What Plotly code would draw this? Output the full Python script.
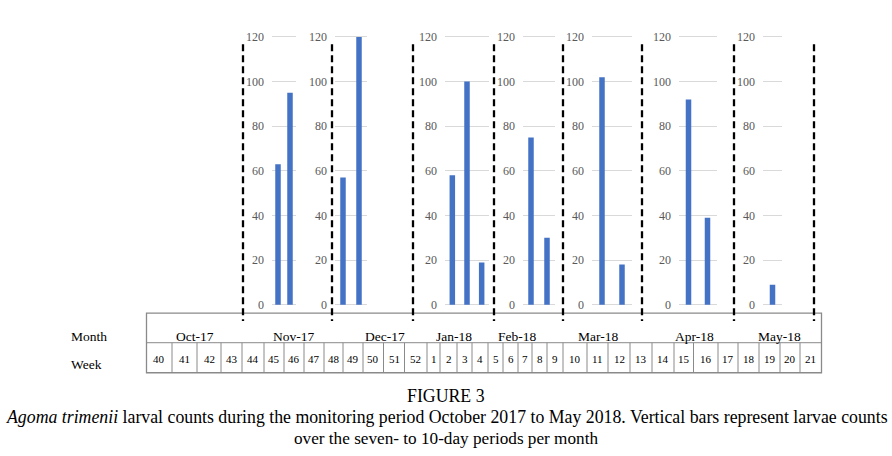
import plotly.graph_objects as go

# ---------------- data ----------------
months = ["Oct-17", "Nov-17", "Dec-17", "Jan-18", "Feb-18", "Mar-18", "Apr-18", "May-18"]
weeks = [40, 41, 42, 43, 44, 45, 46, 47, 48, 49, 50, 51, 52,
         1, 2, 3, 4, 5, 6, 7, 8, 9, 10, 11, 12, 13, 14, 15, 16, 17, 18, 19, 20, 21]

nov_weeks = ["45", "46"]
nov_counts = [63, 95]
dec_weeks = ["49", "50"]
dec_counts = [57, 120]
jan_weeks = ["2", "3", "4"]
jan_counts = [58, 100, 19]
feb_weeks = ["7", "8"]
feb_counts = [75, 30]
mar_weeks = ["11", "12"]
mar_counts = [102, 18]
apr_weeks = ["15", "16"]
apr_counts = [92, 39]
may_weeks = ["19"]
may_counts = [9]

y_ticks = [0, 20, 40, 60, 80, 100, 120]

caption_title = "FIGURE 3"
caption_line1 = ("<i>Agoma trimenii</i> larval counts during the monitoring period October 2017 "
                 "to May 2018. Vertical bars represent larvae counts")
caption_line2 = "over the seven- to 10-day periods per month"

panels = [
    (nov_weeks, nov_counts), (dec_weeks, dec_counts), (jan_weeks, jan_counts),
    (feb_weeks, feb_counts), (mar_weeks, mar_counts), (apr_weeks, apr_counts),
    (may_weeks, may_counts),
]

# ---------------- layout (pixel geometry) ----------------
W, H = 892, 456
def px(x):
    return x / W
def py(y):
    return 1 - y / H

panel_x_px = [(272, 296), (335, 367), (445, 489), (523, 555), (592, 632), (679, 717), (763, 782)]
Y0_PX, Y120_PX = 306.5, 34.5
k = (Y0_PX - Y120_PX) / 120.0
Y_LO, Y_HI = -1.5, 121.5
y_dom = [py(Y0_PX - Y_LO * k), py(Y0_PX - Y_HI * k)]
BAR_PX = 5.5

divider_x_px = [243, 332, 413, 494, 563, 642, 734, 814]
month_label_x_px = [194.5, 293, 385, 454, 517, 598, 694, 779]
week_edges_px = [146.5, 172, 197, 221, 242, 264, 284, 304, 324, 343, 363, 383.5, 404.5,
                 427, 440, 457, 472, 488, 503, 518, 532, 547, 563, 587, 608, 630,
                 652, 674, 693.5, 718, 738, 759, 780, 800, 821.5]
TABLE_TOP, TABLE_MID, TABLE_BOT = 315, 345, 375.5

SERIF = "Liberation Serif, Times New Roman, serif"
BAR_COLOR = "#4472C4"
GRID_COLOR = "#d9d9d9"
TABLE_LINE = "#8a8a8a"
CAPTION_SIZE = 17.8

fig = go.Figure()
layout = dict(
    width=W, height=H,
    margin=dict(l=0, r=0, t=0, b=0),
    paper_bgcolor="white", plot_bgcolor="rgba(0,0,0,0)",
    showlegend=False,
    bargap=0.6,
)

for i, ((cats, vals), (xa, xb)) in enumerate(zip(panels, panel_x_px), start=1):
    sfx = "" if i == 1 else str(i)
    cat_px = (xb - xa) / len(cats)
    fig.add_trace(go.Bar(
        x=cats, y=vals,
        xaxis="x" + sfx, yaxis="y" + sfx,
        marker=dict(color=BAR_COLOR, line=dict(width=0)),
        width=BAR_PX / cat_px,
        hoverinfo="x+y",
    ))
    layout["xaxis" + sfx] = dict(
        domain=[px(xa), px(xb)], anchor="y" + sfx, type="category",
        showticklabels=False, showgrid=False, zeroline=False, showline=False,
        ticks="", fixedrange=True,
    )
    layout["yaxis" + sfx] = dict(
        domain=y_dom, anchor="x" + sfx, range=[Y_LO, Y_HI],
        tickvals=y_ticks, ticktext=[str(v) for v in y_ticks],
        showgrid=True, gridcolor=GRID_COLOR, gridwidth=1,
        zeroline=False, showline=False, ticks="",
        ticklabelstandoff=7,
        tickfont=dict(family=SERIF, size=12, color="#595959"),
        fixedrange=True,
    )

shapes = []
# table
shapes.append(dict(type="rect", xref="paper", yref="paper",
                   x0=px(week_edges_px[0]), x1=px(week_edges_px[-1]),
                   y0=py(TABLE_BOT), y1=py(TABLE_TOP),
                   line=dict(color=TABLE_LINE, width=1.3), layer="below"))
shapes.append(dict(type="line", xref="paper", yref="paper",
                   x0=px(week_edges_px[0]), x1=px(week_edges_px[-1]),
                   y0=py(TABLE_MID), y1=py(TABLE_MID),
                   line=dict(color=TABLE_LINE, width=1), layer="below"))
for e in week_edges_px[1:-1]:
    shapes.append(dict(type="line", xref="paper", yref="paper",
                       x0=px(e), x1=px(e), y0=py(TABLE_BOT), y1=py(TABLE_MID),
                       line=dict(color=TABLE_LINE, width=1), layer="below"))
# month dividers
for d in divider_x_px:
    shapes.append(dict(type="line", xref="paper", yref="paper",
                       x0=px(d), x1=px(d), y0=py(42), y1=py(323),
                       line=dict(color="black", width=2.3, dash="7px,4px")))

annotations = []
annotations.append(dict(text="Month", x=px(69), y=py(338.5), xref="paper", yref="paper",
                        xanchor="left", yanchor="middle", showarrow=False,
                        font=dict(family=SERIF, size=13.5, color="black")))
annotations.append(dict(text="Week", x=px(69), y=py(367), xref="paper", yref="paper",
                        xanchor="left", yanchor="middle", showarrow=False,
                        font=dict(family=SERIF, size=13.5, color="black")))
for m, mx in zip(months, month_label_x_px):
    annotations.append(dict(text=m, x=px(mx), y=py(338.5), xref="paper", yref="paper",
                            xanchor="center", yanchor="middle", showarrow=False,
                            font=dict(family=SERIF, size=13.5, color="black")))
for j, w in enumerate(weeks):
    cx = (week_edges_px[j] + week_edges_px[j + 1]) / 2
    annotations.append(dict(text=str(w), x=px(cx), y=py(361.5), xref="paper", yref="paper",
                            xanchor="center", yanchor="middle", showarrow=False,
                            font=dict(family=SERIF, size=11, color="black")))
# caption
annotations.append(dict(text=caption_title, x=0.5, y=py(399), xref="paper", yref="paper",
                        xanchor="center", yanchor="middle", showarrow=False, borderpad=0,
                        font=dict(family=SERIF, size=CAPTION_SIZE, color="black")))
annotations.append(dict(text=caption_line1, x=px(446.5), y=py(420.5), xref="paper", yref="paper",
                        xanchor="center", yanchor="middle", showarrow=False, borderpad=0,
                        font=dict(family=SERIF, size=CAPTION_SIZE, color="black")))
annotations.append(dict(text=caption_line2, x=0.5, y=py(442), xref="paper", yref="paper",
                        xanchor="center", yanchor="middle", showarrow=False, borderpad=0,
                        font=dict(family=SERIF, size=17.2, color="black")))

layout["shapes"] = shapes
layout["annotations"] = annotations
fig.update_layout(**layout)

fig.write_html("out.html", config={"displayModeBar": False},
               post_script="document.body.style.margin='0';")
